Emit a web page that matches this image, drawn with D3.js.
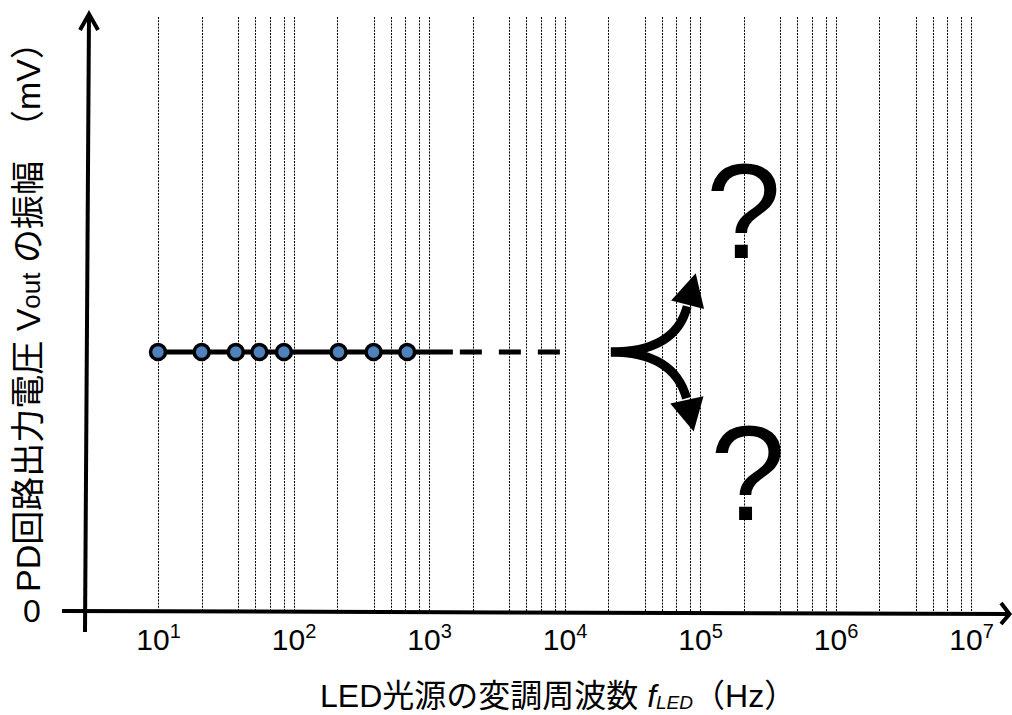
<!DOCTYPE html>
<html>
<head>
<meta charset="utf-8">
<script src="https://cdn.jsdelivr.net/npm/d3@7"></script>
<style>
  body { margin: 0; background: #fff; }
  svg text { font-family: "Liberation Sans", Arial, "Noto Sans CJK JP", sans-serif; fill: #000; }
</style>
</head>
<body>
<svg id="chart" width="1012" height="715"></svg>
<script>
// measured points (frequency in Hz, amplitude in arbitrary mV units)
const pointFreqs = [10, 21, 37.5, 56, 85, 215, 390, 690];
const pointLevel = 43.3;
const solidEnd = 1500;     // solid line keeps going past the last point
const dashEnd = 9500;      // then dashed (unknown region)

// vertical dotted grid: mantissas used inside each decade
const gridMantissas = [1, 2.1, 3.9, 5.2, 6.7, 8.5];
const gridDecades = [1, 2, 3, 4, 5, 6];
const tickExponents = [1, 2, 3, 4, 5, 6, 7];

// fork after the dashed line: start, bend, end of curve, arrow tip
const forkStart = [22000, 43.3];
const forkUp = { ctrl: [66000, 43.3], end: [81000, 51.2], tip: [93000, 56.5] };
const forkDown = { ctrl: [64000, 43.3], end: [80000, 35.3], tip: [89800, 30.0] };
const questionMarks = [[210000, 59.0], [225000, 15.2]];

const svg = d3.select("#chart");

const x = d3.scaleLog().domain([1e1, 1e7]).range([158, 971]);
const y = d3.scaleLinear().domain([0, 100]).range([611, 13]);

// grid lines
let gridValues = [];
for (let i = 0; i < gridDecades.length; i++) {
    for (let j = 0; j < gridMantissas.length; j++) {
        gridValues.push(gridMantissas[j] * Math.pow(10, gridDecades[i]));
    }
}
gridValues.push(1e7);

svg.append("g")
    .attr("class", "grid")
    .selectAll("line")
    .data(gridValues)
    .join("line")
    .attr("x1", d => Math.round(x(d)) + 0.5)
    .attr("x2", d => Math.round(x(d)) + 0.5)
    .attr("y1", 17)
    .attr("y2", y(0))
    .attr("stroke", "#000")
    .attr("stroke-width", 1)
    .attr("stroke-dasharray", "2,1.2");

// x tick labels with superscript exponents
const xAxis = d3.axisBottom(x)
    .tickValues(tickExponents.map(e => Math.pow(10, e)))
    .tickSize(0)
    .tickFormat("");

const xAxisG = svg.append("g")
    .attr("transform", `translate(0,${y(0)})`)
    .call(xAxis);
xAxisG.select(".domain").remove();
xAxisG.selectAll(".tick").each(function(d, i) {
    const t = d3.select(this).append("text")
        .attr("y", 39)
        .attr("text-anchor", "middle")
        .attr("font-size", 30)
        .style("fill", "#000");
    t.append("tspan").text("10");
    t.append("tspan")
        .attr("font-size", 20)
        .attr("dy", -12)
        .text(tickExponents[i]);
});

// axes drawn as thick arrows
svg.append("line")
    .attr("x1", 62).attr("y1", y(0))
    .attr("x2", 1009).attr("y2", y(0) + 3)
    .attr("stroke", "#000").attr("stroke-width", 4);
svg.append("path")
    .attr("d", `M1001,${y(0) - 8} L1009.5,${y(0) + 3} L1001,${y(0) + 13}`)
    .attr("fill", "none").attr("stroke", "#000").attr("stroke-width", 4);

svg.append("line")
    .attr("x1", 85).attr("y1", 632)
    .attr("x2", 89).attr("y2", 14)
    .attr("stroke", "#000").attr("stroke-width", 4);
svg.append("path")
    .attr("d", "M80,30 L89,14 L98,30")
    .attr("fill", "none").attr("stroke", "#000").attr("stroke-width", 4);

svg.append("text")
    .attr("x", 32).attr("y", y(0) + 11)
    .attr("text-anchor", "middle")
    .attr("font-size", 32)
    .text("0");

// data line: solid then dashed
const line = d3.line().x(d => x(d[0])).y(d => y(d[1]));

svg.append("path")
    .attr("d", line([[pointFreqs[0], pointLevel], [solidEnd, pointLevel]]))
    .attr("stroke", "#000").attr("stroke-width", 5).attr("fill", "none");

svg.append("path")
    .attr("d", line([[solidEnd, pointLevel], [dashEnd, pointLevel]]))
    .attr("stroke", "#000").attr("stroke-width", 5).attr("fill", "none")
    .attr("stroke-dasharray", "22,17")
    .attr("stroke-dashoffset", 32);

svg.append("g")
    .selectAll("circle")
    .data(pointFreqs)
    .join("circle")
    .attr("cx", d => x(d))
    .attr("cy", y(pointLevel))
    .attr("r", 7.5)
    .attr("fill", "#4f81bd")
    .attr("stroke", "#000")
    .attr("stroke-width", 3.5);

// forked curved arrows
function drawFork(branch) {
    const s = [x(forkStart[0]), y(forkStart[1])];
    const c = [x(branch.ctrl[0]), y(branch.ctrl[1])];
    const e = [x(branch.end[0]), y(branch.end[1])];
    const t = [x(branch.tip[0]), y(branch.tip[1])];

    svg.append("path")
        .attr("d", `M${s[0]},${s[1]} Q${c[0]},${c[1]} ${e[0] + (e[0] - t[0]) * 0.05},${e[1] + (e[1] - t[1]) * 0.05}`)
        .attr("fill", "none")
        .attr("stroke", "#000")
        .attr("stroke-width", 9);

    // head: base centred on curve end, perpendicular to end->tip
    let dx = t[0] - e[0], dy = t[1] - e[1];
    const len = Math.sqrt(dx * dx + dy * dy);
    dx = dx / len; dy = dy / len;
    const hw = 17;
    const p1 = [e[0] - dy * hw, e[1] + dx * hw];
    const p2 = [e[0] + dy * hw, e[1] - dx * hw];
    svg.append("path")
        .attr("d", `M${t[0]},${t[1]} L${p1[0]},${p1[1]} L${p2[0]},${p2[1]} Z`)
        .attr("fill", "#000");
}
drawFork(forkUp);
drawFork(forkDown);

svg.append("g")
    .selectAll("text")
    .data(questionMarks)
    .join("text")
    .attr("x", d => x(d[0]))
    .attr("y", d => y(d[1]))
    .attr("text-anchor", "middle")
    .attr("font-size", 136)
    .text("?");

// axis titles
const xTitle = svg.append("text")
    .attr("x", 320).attr("y", 707)
    .attr("font-size", 32);
xTitle.append("tspan").text("LED光源の変調周波数 ");
xTitle.append("tspan").attr("font-style", "italic").text("f");
xTitle.append("tspan").attr("font-style", "italic").attr("font-size", 19).attr("dy", 2).text("LED");
xTitle.append("tspan").attr("dy", -2).text("（Hz）");

const yTitle = svg.append("text")
    .attr("transform", "translate(40,592) rotate(-90)")
    .attr("font-size", 34);
yTitle.append("tspan").text("PD回路出力電圧 V");
yTitle.append("tspan").attr("font-size", 26).text("out");
yTitle.append("tspan").text(" の振幅　（mV）");
</script>
</body>
</html>
